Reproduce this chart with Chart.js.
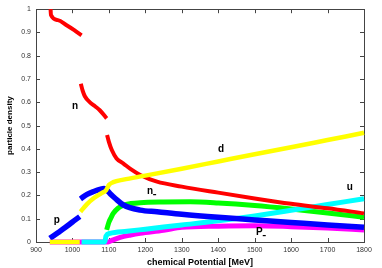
<!DOCTYPE html>
<html>
<head>
<meta charset="utf-8">
<script src="https://cdn.jsdelivr.net/npm/chart.js@4.4.1/dist/chart.umd.min.js"></script>
<style>
  html, body { margin: 0; padding: 0; background: #fff; }
</style>
</head>
<body>
<canvas id="densityChart" width="382" height="268"></canvas>
<script>
// particle densities vs chemical potential (null = break in the curve)
const muN   = [940, 941, 960, 984, 1005, 1025, 1024, 1023, 1028, 1034, 1048, 1062, 1075, 1094, 1094.5, 1095, 1100, 1108, 1121, 1140, 1160, 1186, 1232, 1300, 1400, 1500, 1600, 1700, 1800];
const densN = [1.0, 0.975, 0.953, 0.931, 0.91, 0.888, null, 0.68, 0.65, 0.626, 0.6, 0.583, 0.566, 0.531, null, 0.46, 0.43, 0.395, 0.359, 0.337, 0.313, 0.288, 0.259, 0.238, 0.212, 0.187, 0.164, 0.145, 0.123];

const muP   = [938, 960, 980, 1000, 1020, 1021, 1022, 1040, 1060, 1075, 1087, 1095, 1105, 1117, 1140, 1186, 1232, 1300, 1400, 1500, 1600, 1700, 1800];
const densP = [0.016, 0.04, 0.062, 0.086, 0.109, null, 0.185, 0.205, 0.218, 0.226, 0.23, 0.222, 0.205, 0.188, 0.159, 0.137, 0.13, 0.119, 0.106, 0.095, 0.084, 0.073, 0.063];

const muD   = [938, 1020, 1021, 1022, 1040, 1060, 1080, 1092, 1100, 1112, 1140, 1200, 1300, 1400, 1500, 1600, 1700, 1800];
const densD = [0, 0, null, 0.13, 0.163, 0.19, 0.21, 0.222, 0.245, 0.257, 0.268, 0.285, 0.315, 0.346, 0.377, 0.407, 0.438, 0.469];

const muNm   = [1094, 1100, 1106, 1112, 1125, 1140, 1160, 1186, 1250, 1323, 1400, 1500, 1600, 1700, 1800];
const densNm = [0.052, 0.085, 0.105, 0.123, 0.145, 0.158, 0.165, 0.169, 0.172, 0.173, 0.168, 0.157, 0.142, 0.125, 0.106];

const muU   = [1025, 1089, 1092, 1103, 1150, 1200, 1300, 1400, 1500, 1600, 1700, 1800];
const densU = [0, 0, 0.025, 0.037, 0.046, 0.055, 0.073, 0.091, 0.112, 0.136, 0.161, 0.186];

const muPm   = [938, 1098, 1110, 1131, 1160, 1186, 1250, 1300, 1400, 1500, 1600, 1700, 1800];
const densPm = [0, 0, 0.008, 0.02, 0.03, 0.037, 0.05, 0.063, 0.068, 0.07, 0.066, 0.06, 0.052];

// curve labels, placed in data units
const labelText = ['n', 'p', 'd', 'n', 'P', 'u'];
const labelSub  = [false, false, false, true, true, false];
const labelMu   = [1007, 957, 1408, 1213, 1513, 1761];
const labelDens = [0.585, 0.094, 0.40, 0.219, 0.043, 0.236];

const FONT = '"Liberation Sans", Arial, sans-serif';

function toPoints(mu, dens) {
    return mu.map((x, i) => ({ x: x, y: dens[i] }));
}

function curve(mu, dens, color, width) {
    return {
        data: toPoints(mu, dens),
        borderColor: color,
        backgroundColor: color,
        borderWidth: width,
        pointRadius: 0,
        cubicInterpolationMode: 'monotone',
        spanGaps: false,
        clip: false
    };
}

// frame with inward ticks on all four sides
const framePlugin = {
    id: 'frame',
    beforeDatasetsDraw(chart) {
        const { ctx, chartArea: a, scales } = chart;
        ctx.save();
        ctx.strokeStyle = '#444';
        ctx.lineWidth = 1;
        ctx.strokeRect(Math.round(a.left) + 0.5, Math.round(a.top) + 0.5,
            Math.round(a.right - a.left), Math.round(a.bottom - a.top));
        ctx.beginPath();
        scales.x.ticks.forEach(t => {
            const px = Math.round(scales.x.getPixelForValue(t.value)) + 0.5;
            ctx.moveTo(px, a.bottom); ctx.lineTo(px, a.bottom - 4);
            ctx.moveTo(px, a.top); ctx.lineTo(px, a.top + 4);
        });
        scales.y.ticks.forEach(t => {
            const py = Math.round(scales.y.getPixelForValue(t.value)) + 0.5;
            ctx.moveTo(a.left, py); ctx.lineTo(a.left + 4, py);
            ctx.moveTo(a.right, py); ctx.lineTo(a.right - 4, py);
        });
        ctx.stroke();
        ctx.restore();
    },
    afterDatasetsDraw(chart) {
        const { ctx, scales } = chart;
        ctx.save();
        ctx.fillStyle = '#000';
        ctx.font = 'bold 10px ' + FONT;
        ctx.textAlign = 'center';
        ctx.textBaseline = 'middle';
        labelText.forEach((txt, i) => {
            const px = scales.x.getPixelForValue(labelMu[i]);
            const py = scales.y.getPixelForValue(labelDens[i]);
            ctx.fillText(txt, px, py);
            if (labelSub[i]) {
                const w = ctx.measureText(txt).width;
                ctx.fillRect(px + w / 2, py + 3, 3, 1.2);
            }
        });
        ctx.restore();
    }
};

const ctx = document.getElementById('densityChart').getContext('2d');
const densityChart = new Chart(ctx, {
    type: 'line',
    data: {
        datasets: [
            curve(muD, densD, '#ffff00', 4.5),
            curve(muP, densP, '#0000ff', 5.5),
            curve(muN, densN, '#ff0000', 4),
            curve(muU, densU, '#00ffff', 5),
            curve(muNm, densNm, '#00ff00', 5),
            curve(muPm, densPm, '#ff00ff', 5)
        ]
    },
    options: {
        responsive: false,
        animation: false,
        events: [],
        layout: { padding: { top: 9, right: 18, left: 0, bottom: 0 } },
        plugins: { legend: { display: false }, tooltip: { enabled: false } },
        scales: {
            x: {
                type: 'linear',
                min: 900,
                max: 1800,
                grid: { display: false, drawTicks: false },
                border: { display: false },
                ticks: {
                    stepSize: 100,
                    padding: 4,
                    maxRotation: 0,
                    color: '#333',
                    font: { family: FONT, size: 7 },
                    callback: v => String(v)
                },
                title: {
                    display: true,
                    text: 'chemical Potential [MeV]',
                    color: '#000',
                    font: { family: FONT, size: 9, weight: 'bold' },
                    padding: { top: 0, bottom: 0 }
                },
                afterFit: s => { s.height = 26; }
            },
            y: {
                min: 0,
                max: 1,
                grid: { display: false, drawTicks: false },
                border: { display: false },
                ticks: {
                    stepSize: 0.1,
                    padding: 5,
                    color: '#333',
                    font: { family: FONT, size: 7 },
                    callback: v => String(parseFloat(v.toFixed(1)))
                },
                title: {
                    display: true,
                    text: 'particle density',
                    color: '#000',
                    font: { family: FONT, size: 8, weight: 'bold' },
                    padding: { top: 5, bottom: 0 }
                },
                afterFit: s => { s.width = 36; }
            }
        }
    },
    plugins: [framePlugin]
});
</script>
</body>
</html>
